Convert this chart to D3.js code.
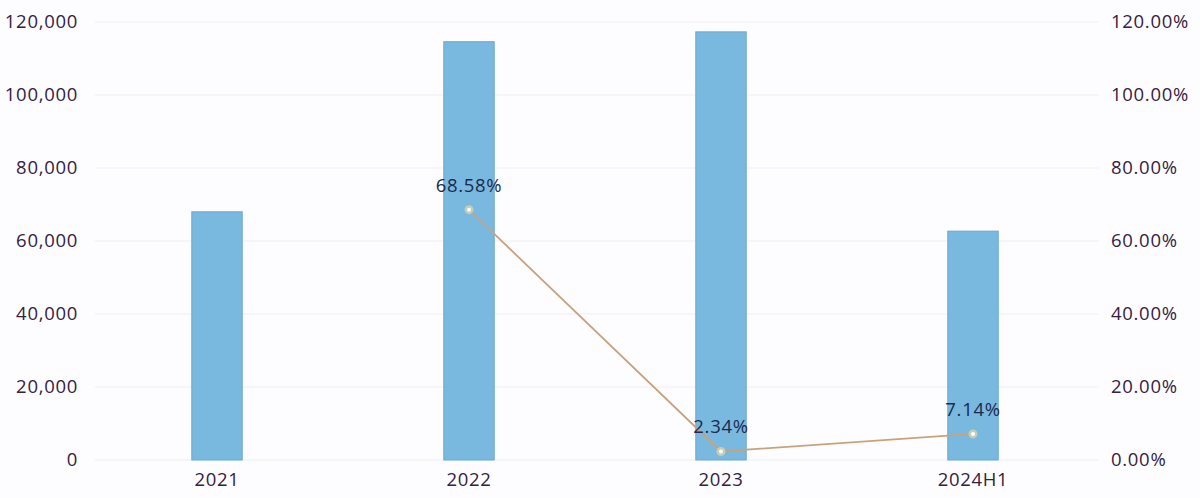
<!DOCTYPE html>
<html><head><meta charset="utf-8">
<script src="https://cdn.jsdelivr.net/npm/d3@7"></script>
<style>body{margin:0;background:#fdfdff;} svg{display:block;}</style>
</head><body>
<svg id="c" width="1200" height="498"></svg>
<script>
const categories = ["2021", "2022", "2023", "2024H1"];
const barValues = [68000, 114600, 117300, 62700];
const growthValues = [null, 68.58, 2.34, 7.14];
const growthLabels = [null, "68.58%", "2.34%", "7.14%"];
const leftTicks = [0, 20000, 40000, 60000, 80000, 100000, 120000];
const rightTicks = [0, 20, 40, 60, 80, 100, 120];

const svg = d3.select("#c");
const W = 1200, H = 498;
const m = {left: 91, right: 101, top: 22, bottom: 38};
const x = d3.scaleBand().domain(categories).range([m.left, W - m.right]).paddingInner(0.8).paddingOuter(0.4);
const y = d3.scaleLinear().domain([0, 120000]).range([H - m.bottom, m.top]);
const y2 = d3.scaleLinear().domain([0, 120]).range([H - m.bottom, m.top]);

svg.append("rect").attr("width", W).attr("height", H).attr("fill", "#fdfdff");

// grid
svg.append("g").selectAll("line").data(leftTicks).join("line")
  .attr("x1", 95).attr("x2", W - m.right).attr("y1", d => y(d)).attr("y2", d => y(d))
  .attr("stroke", "#eef0f6").attr("stroke-width", 1.2);

const fontFam = "'Open Sans', 'Noto Sans', sans-serif";
const fs = 18.5, ls = 0.7;
function styleText(sel) {
  sel.attr("font-family", fontFam).attr("font-size", fs).attr("letter-spacing", ls).attr("fill", "#35223f");
}
// left axis
const la = svg.append("g").attr("transform", `translate(${m.left},0)`)
  .call(d3.axisLeft(y).tickValues(leftTicks).tickFormat(d3.format(",")).tickSize(0).tickPadding(13));
la.select(".domain").remove();
styleText(la.selectAll("text"));

// right axis
const ra = svg.append("g").attr("transform", `translate(${W - m.right},0)`)
  .call(d3.axisRight(y2).tickValues(rightTicks).tickFormat(d => d.toFixed(2) + "%").tickSize(0).tickPadding(12));
ra.select(".domain").remove();
styleText(ra.selectAll("text"));

// x axis
const xa = svg.append("g").attr("transform", `translate(0,${H - m.bottom})`)
  .call(d3.axisBottom(x).tickSize(0).tickPadding(13));
xa.select(".domain").remove();
styleText(xa.selectAll("text"));

// bars
svg.append("g").selectAll("rect").data(categories).join("rect")
  .attr("x", d => x(d)).attr("width", x.bandwidth())
  .attr("y", (d, i) => y(barValues[i])).attr("height", (d, i) => y(0) - y(barValues[i]))
  .attr("fill", "#79b9df").attr("stroke", "#6aa9d0").attr("stroke-width", 1);

// line
const pts = categories.map((c, i) => ({c, v: growthValues[i], l: growthLabels[i]})).filter(d => d.v !== null);
const line = d3.line().x(d => x(d.c) + x.bandwidth() / 2).y(d => y2(d.v));
svg.append("path").datum(pts).attr("d", line).attr("fill", "none")
  .attr("stroke", "#c9a27c").attr("stroke-width", 1.8);

svg.append("g").selectAll("circle").data(pts).join("circle")
  .attr("cx", d => x(d.c) + x.bandwidth() / 2).attr("cy", d => y2(d.v)).attr("r", 4.5)
  .attr("fill", "#f3dca0").attr("opacity", 0.6);
svg.append("g").selectAll("circle").data(pts).join("circle")
  .attr("cx", d => x(d.c) + x.bandwidth() / 2).attr("cy", d => y2(d.v)).attr("r", 2)
  .attr("fill", "#ffffff");

svg.append("g").selectAll("text").data(pts).join("text")
  .attr("x", d => x(d.c) + x.bandwidth() / 2).attr("y", d => y2(d.v) - 18)
  .attr("text-anchor", "middle").attr("font-family", fontFam).attr("font-size", fs).attr("letter-spacing", ls)
  .attr("fill", "#1b2a4e").text(d => d.l);
</script>
</body></html>
